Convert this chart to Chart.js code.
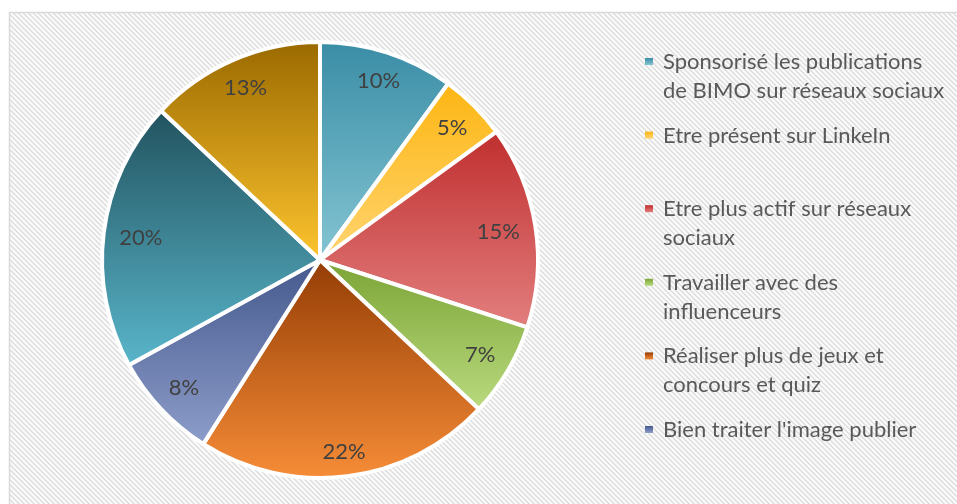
<!DOCTYPE html>
<html>
<head>
<meta charset="utf-8">
<script src="https://cdn.jsdelivr.net/npm/chart.js@4/dist/chart.umd.min.js"></script>
<style>
  html, body { margin: 0; padding: 0; background: #ffffff; }
  #wrap { width: 957px; height: 504px; position: relative; }
</style>
</head>
<body>
<div id="wrap"><canvas id="pie" width="957" height="504"></canvas></div>
<script>
// Suggestions (one entry per slice, split into the lines shown in the legend)
const categories = [
  ["Sponsorisé les publications", "de BIMO sur réseaux sociaux"],
  ["Etre présent sur LinkeIn"],
  ["Etre plus actif sur réseaux", "sociaux"],
  ["Travailler avec des", "influenceurs"],
  ["Réaliser plus de jeux et", "concours et quiz"],
  ["Bien traiter l'image publier"],
  ["Autres propositions"],
  ["Sans avis"]
];
// Share of answers, in percent
const percentages = [10, 5, 15, 7, 22, 8, 20, 13];

// Slice shading: darker at the top of each slice, lighter at its bottom
const darkShades  = ["#3a8da6", "#fdb613", "#c02f2f", "#7ba436", "#943d05", "#45598d", "#22535f", "#9b6a00"];
const lightShades = ["#84c5d3", "#ffd470", "#e37e7e", "#bada7e", "#f68c37", "#8d9dca", "#59b5ca", "#fdc42e"];

const FONT_FAMILY = "Lato, 'Open Sans', sans-serif";
const FONT_SIZE = 22;

// Vertical gradient spanning the bounding box of one pie slice
function sliceGradient(ctx) {
  const i = ctx.dataIndex;
  if (ctx.type !== 'data') return darkShades[0];
  const chart = ctx.chart;
  const area = chart.chartArea;
  if (!area) return darkShades[i];
  const meta = chart.getDatasetMeta(ctx.datasetIndex);
  const r = meta.controller.outerRadius || (Math.min(area.width, area.height) - 4) / 2;
  const cx = (area.left + area.right) / 2;
  const cy = (area.top + area.bottom) / 2;
  const data = ctx.dataset.data;
  const total = data.reduce((a, b) => a + b, 0);
  let before = 0;
  for (let k = 0; k < i; k++) before += data[k];
  const a0 = -Math.PI / 2 + 2 * Math.PI * before / total;
  const a1 = a0 + 2 * Math.PI * data[i] / total;
  let top = Math.min(cy, cy + r * Math.sin(a0), cy + r * Math.sin(a1));
  let bottom = Math.max(cy, cy + r * Math.sin(a0), cy + r * Math.sin(a1));
  if (a0 <= -Math.PI / 2 + 1e-9 || a1 >= 1.5 * Math.PI - 1e-9) top = cy - r;
  if (a0 <= Math.PI / 2 && a1 >= Math.PI / 2) bottom = cy + r;
  const g = chart.ctx.createLinearGradient(0, top, 0, bottom);
  g.addColorStop(0, darkShades[i]);
  g.addColorStop(1, lightShades[i]);
  return g;
}

// Light diagonal hatching used behind the chart
function hatchPattern(c) {
  const p = 5;
  const tile = document.createElement('canvas');
  tile.width = p; tile.height = p;
  const t = tile.getContext('2d');
  const img = t.createImageData(p, p);
  const shades = [222, 230, 248, 255, 240];
  for (let y = 0; y < p; y++) {
    for (let x = 0; x < p; x++) {
      const k = (((x - y) % p) + p) % p;
      const v = shades[k];
      const o = (y * p + x) * 4;
      img.data[o] = v; img.data[o + 1] = v; img.data[o + 2] = v; img.data[o + 3] = 255;
    }
  }
  t.putImageData(img, 0, 0);
  return c.createPattern(tile, 'repeat');
}

const backdrop = {
  id: 'backdrop',
  beforeDraw(chart) {
    const c = chart.ctx;
    c.save();
    c.fillStyle = '#ffffff';
    c.fillRect(0, 0, chart.width, chart.height);
    c.fillStyle = hatchPattern(c);
    c.fillRect(10, 13, chart.width, chart.height);
    c.strokeStyle = '#d9d9d9';
    c.lineWidth = 1.5;
    c.strokeRect(9.5, 12.5, chart.width + 10, chart.height + 10);
    c.restore();
  }
};

// Percent labels placed just inside the outer edge of each slice
const sliceLabels = {
  id: 'sliceLabels',
  afterDatasetsDraw(chart) {
    const c = chart.ctx;
    const meta = chart.getDatasetMeta(0);
    const values = chart.data.datasets[0].data;
    const capH = 15;
    c.save();
    c.font = FONT_SIZE + 'px ' + FONT_FAMILY;
    c.fillStyle = '#404040';
    c.textAlign = 'center';
    c.textBaseline = 'alphabetic';
    meta.data.forEach((arc, i) => {
      const p = arc.getProps(['x', 'y', 'startAngle', 'endAngle', 'outerRadius'], true);
      const mid = (p.startAngle + p.endAngle) / 2;
      const ux = Math.cos(mid), uy = Math.sin(mid);
      const txt = values[i] + '%';
      const w = c.measureText(txt).width;
      const he = Math.abs(ux) * w / 2 + Math.abs(uy) * capH / 2;
      const d = p.outerRadius - 15 - he;
      c.fillText(txt, p.x + ux * d, p.y + uy * d + capH / 2);
    });
    c.restore();
  }
};

// Legend on the right: fixed slot per entry, clipped to its box
const sideLegend = {
  id: 'sideLegend',
  afterDraw(chart) {
    const c = chart.ctx;
    const labels = chart.data.labels;
    const markX = 645, textX = 663, firstBase = 69, slot = 73.6, lineGap = 29, boxBottom = 470;
    c.save();
    c.font = FONT_SIZE + 'px ' + FONT_FAMILY;
    c.fillStyle = '#595959';
    c.textAlign = 'left';
    c.textBaseline = 'alphabetic';
    labels.forEach((lines, i) => {
      const base = firstBase + slot * i;
      if (base + (lines.length - 1) * lineGap > boxBottom) return;
      const my = base - 11;
      const g = c.createLinearGradient(0, my, 0, my + 7);
      g.addColorStop(0, darkShades[i]);
      g.addColorStop(1, lightShades[i]);
      c.fillStyle = g;
      c.fillRect(markX, my, 8, 7);
      c.fillStyle = '#595959';
      lines.forEach((ln, j) => c.fillText(ln, textX, base + j * lineGap));
    });
    c.restore();
  }
};

new Chart(document.getElementById('pie'), {
  type: 'pie',
  data: {
    labels: categories,
    datasets: [{
      data: percentages,
      backgroundColor: sliceGradient,
      borderColor: '#ffffff',
      borderWidth: 4
    }]
  },
  options: {
    responsive: false,
    animation: false,
    devicePixelRatio: 1,
    layout: { padding: { left: 100, right: 417, top: 40, bottom: 24 } },
    plugins: {
      legend: { display: false },
      tooltip: { enabled: false }
    }
  },
  plugins: [backdrop, sliceLabels, sideLegend]
});
</script>
</body>
</html>
